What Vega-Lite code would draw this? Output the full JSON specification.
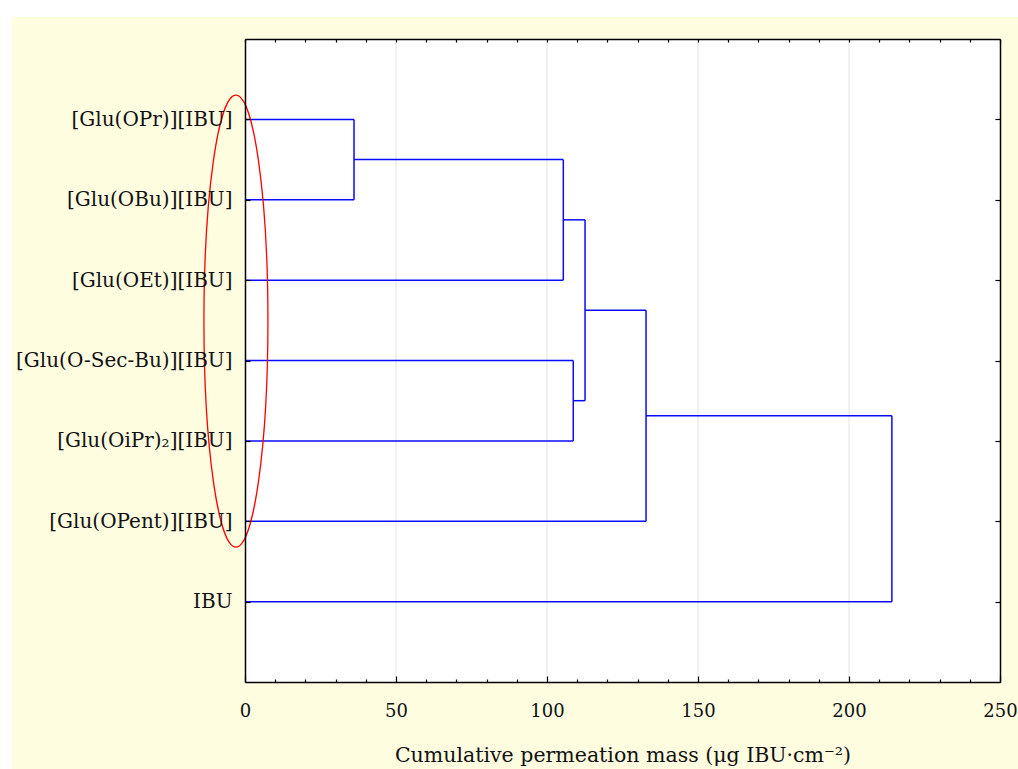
{
  "$schema": "https://vega.github.io/schema/vega-lite/v6.json",
  "width": 755,
  "height": 643,
  "autosize": {"type": "none"},
  "padding": {"left": 245, "top": 39, "right": 18, "bottom": 87},
  "background": "#ffffff",
  "config": {
    "view": {"stroke": null},
    "font": "DejaVu Serif",
    "axis": {"labelFont": "DejaVu Serif", "titleFont": "DejaVu Serif", "labelColor": "#111111", "titleColor": "#111111", "domainColor": "#000000", "tickColor": "#000000", "domainWidth": 1.5, "tickWidth": 1.2, "grid": false, "labelFlush": false, "labelLimit": 400}
  },
  "datasets": {
    "bg": [{"x": -77.2, "x2": 256.5, "y": -0.274, "y2": 9.3}],
    "plot": [{"x": 0, "x2": 250, "y": 0, "y2": 8}],
    "grid": [{"x": 50}, {"x": 100}, {"x": 150}, {"x": 200}],
    "segs": [
      {"x": 0, "x2": 36.1, "y": 1, "y2": 1},
      {"x": 0, "x2": 36.1, "y": 2, "y2": 2},
      {"x": 36.1, "x2": 36.1, "y": 1, "y2": 2},
      {"x": 36.1, "x2": 105.4, "y": 1.5, "y2": 1.5},
      {"x": 0, "x2": 105.4, "y": 3, "y2": 3},
      {"x": 105.4, "x2": 105.4, "y": 1.5, "y2": 3},
      {"x": 105.4, "x2": 112.6, "y": 2.25, "y2": 2.25},
      {"x": 0, "x2": 108.7, "y": 4, "y2": 4},
      {"x": 0, "x2": 108.7, "y": 5, "y2": 5},
      {"x": 108.7, "x2": 108.7, "y": 4, "y2": 5},
      {"x": 108.7, "x2": 112.6, "y": 4.5, "y2": 4.5},
      {"x": 112.6, "x2": 112.6, "y": 2.25, "y2": 4.5},
      {"x": 112.6, "x2": 132.8, "y": 3.375, "y2": 3.375},
      {"x": 0, "x2": 132.8, "y": 6, "y2": 6},
      {"x": 132.8, "x2": 132.8, "y": 3.375, "y2": 6},
      {"x": 132.8, "x2": 214.2, "y": 4.6875, "y2": 4.6875},
      {"x": 0, "x2": 214.2, "y": 7, "y2": 7},
      {"x": 214.2, "x2": 214.2, "y": 4.6875, "y2": 7}
    ],
    "ellipse": [{"x": -3, "y": 3.51}]
  },
  "layer": [
    {
      "data": {"name": "bg"},
      "mark": {"type": "rect", "fill": "#FFFDE0", "stroke": null},
      "encoding": {
        "x": {"field": "x", "type": "quantitative", "scale": {"domain": [0, 250], "nice": false, "zero": false}, "axis": null},
        "x2": {"field": "x2"},
        "y": {"field": "y", "type": "quantitative", "scale": {"domain": [0, 8], "nice": false, "zero": false, "reverse": true}, "axis": null},
        "y2": {"field": "y2"}
      }
    },
    {
      "data": {"name": "plot"},
      "mark": {"type": "rect", "fill": "#ffffff", "stroke": null},
      "encoding": {
        "x": {"field": "x", "type": "quantitative", "scale": {"domain": [0, 250], "nice": false, "zero": false},
              "axis": {"orient": "top", "zindex": 2, "values": [0,10,20,30,40,50,60,70,80,90,100,110,120,130,140,150,160,170,180,190,200,210,220,230,240,250], "tickSize": -3, "labels": false, "title": null}},
        "x2": {"field": "x2"},
        "y": {"field": "y", "type": "quantitative", "scale": {"domain": [0, 8], "nice": false, "zero": false, "reverse": true},
              "axis": {"orient": "right", "zindex": 2, "values": [1,2,3,4,5,6,7], "tickSize": -5, "labels": false, "title": null}},
        "y2": {"field": "y2"}
      }
    },
    {
      "data": {"name": "grid"},
      "mark": {"type": "rule", "color": "#e2e2e2", "strokeWidth": 1},
      "encoding": {
        "x": {"field": "x", "type": "quantitative", "scale": {"domain": [0, 250], "nice": false, "zero": false}, "axis": null}
      }
    },
    {
      "data": {"name": "segs"},
      "mark": {"type": "rule", "color": "#0a0aff", "strokeWidth": 1.5},
      "encoding": {
        "x": {"field": "x", "type": "quantitative", "scale": {"domain": [0, 250], "nice": false, "zero": false},
              "axis": {"orient": "bottom", "zindex": 2, "values": [0,10,20,30,40,50,60,70,80,90,100,110,120,130,140,150,160,170,180,190,200,210,220,230,240,250],
                       "tickSize": {"condition": {"test": "datum.value % 50 === 0", "value": -6}, "value": -3},
                       "labelExpr": "datum.value % 50 === 0 ? datum.label : ''",
                       "labelFontSize": 18, "labelPadding": 26,
                       "title": "Cumulative permeation mass (μg IBU·cm⁻²)", "titleFontSize": 20.5, "titleFontWeight": "normal", "titlePadding": 25}},
        "x2": {"field": "x2"},
        "y": {"field": "y", "type": "quantitative", "scale": {"domain": [0, 8], "nice": false, "zero": false, "reverse": true},
              "axis": {"orient": "left", "zindex": 2, "values": [1,2,3,4,5,6,7], "tickSize": -5,
                       "labelExpr": "['', '[Glu(OPr)][IBU]', '[Glu(OBu)][IBU]', '[Glu(OEt)][IBU]', '[Glu(O-Sec-Bu)][IBU]', '[Glu(OiPr)₂][IBU]', '[Glu(OPent)][IBU]', 'IBU'][datum.value]",
                       "labelFontSize": 20, "labelPadding": 18, "title": null}},
        "y2": {"field": "y2"}
      }
    },
    {
      "data": {"name": "ellipse"},
      "mark": {"type": "point", "filled": false, "stroke": "#ff0000", "strokeWidth": 1.3, "opacity": 1,
               "shape": "M0,-1 C0.0782,-1 0.1416,-0.5523 0.1416,0 C0.1416,0.5523 0.0782,1 0,1 C-0.0782,1 -0.1416,0.5523 -0.1416,0 C-0.1416,-0.5523 -0.0782,-1 0,-1 Z",
               "size": 204304},
      "encoding": {
        "x": {"field": "x", "type": "quantitative", "scale": {"domain": [0, 250], "nice": false, "zero": false}, "axis": null},
        "y": {"field": "y", "type": "quantitative", "scale": {"domain": [0, 8], "nice": false, "zero": false, "reverse": true}, "axis": null}
      }
    }
  ]
}
